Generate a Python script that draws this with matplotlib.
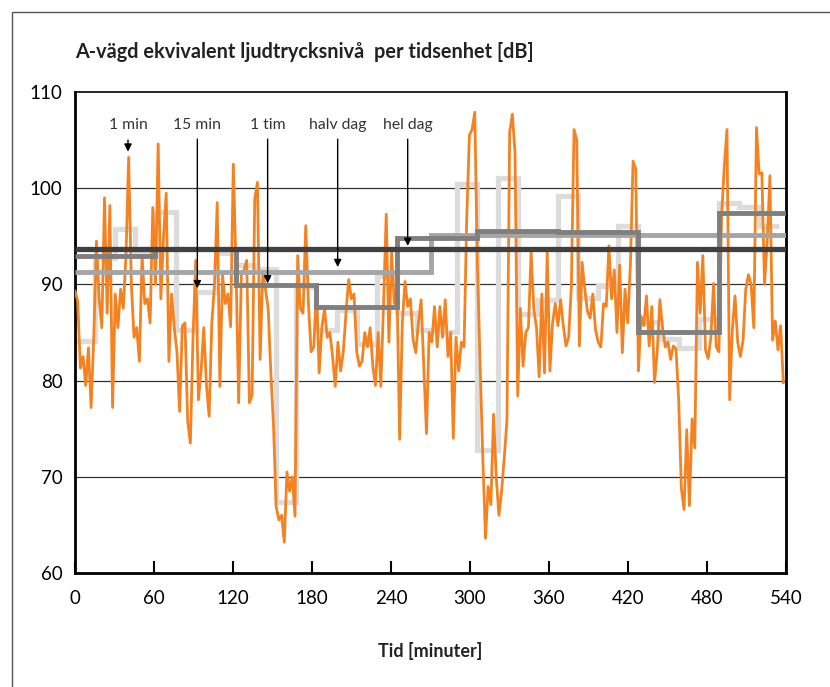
import matplotlib
matplotlib.use("Agg")
import matplotlib.pyplot as plt
from matplotlib.patches import Rectangle

plt.rcParams['font.family'] = ['Lato', 'DejaVu Sans']

# ---------------- data ----------------
TOTAL_MIN = 530  # length of the measurement series (minutes)

minute_values = [
    89.3, 88.3, 81.3, 82.5, 79.5, 83.4, 77.2, 84.5, 94.5, 88.5,
    85.5, 99.0, 87.0, 98.2, 77.2, 89.0, 85.5, 89.5, 87.5, 93.0,
    103.2, 90.0, 84.5, 85.5, 82.0, 93.0, 88.0, 88.5, 86.0, 98.0,
    90.0, 104.6, 88.5, 95.0, 99.5, 82.0, 89.0, 85.5, 83.0, 76.8,
    85.7, 86.0, 75.8, 73.5, 84.6,
    92.5, 78.0, 81.0, 85.5, 79.5, 76.3, 86.0, 90.0, 98.5, 79.4,
    91.0, 88.0, 89.0, 85.6, 102.5, 92.0, 77.7, 91.0, 91.5, 92.5,
    77.7, 78.5, 98.9, 100.6, 82.2, 91.3, 89.5, 87.5, 80.8, 75.2,
    66.9, 65.5, 66.0, 63.2, 70.5, 68.5, 70.0, 65.9, 93.0, 87.5,
    87.0, 96.1, 88.0, 83.0, 83.5,
    89.5, 80.8, 85.5, 87.5, 84.5, 85.0, 82.5, 79.4, 84.0, 81.0,
    83.0, 87.0, 90.5, 88.5, 89.0, 83.0, 81.5, 82.0, 85.0, 83.5,
    85.5, 81.5, 79.5, 85.0, 79.4, 88.0, 97.3, 84.0, 93.3, 88.0,
    89.8, 73.9, 86.0, 90.3, 87.7, 88.5, 84.3, 82.9, 86.0, 88.4,
    81.5, 74.5, 85.0, 84.0, 87.7,
    83.5, 87.7, 84.5, 88.4, 82.5, 85.0, 74.0, 84.5, 81.0, 84.0,
    83.5, 96.8, 105.5, 106.1, 107.9, 91.9, 81.5, 72.0, 63.6, 69.0,
    67.1, 76.5, 70.0, 66.0, 68.5, 72.0, 75.9, 105.8, 107.7, 103.7,
    78.4, 87.5, 81.5, 85.0, 85.5, 93.3, 87.5, 85.5, 80.4, 89.0,
    80.8, 93.3, 81.0, 86.0, 88.0,
    85.7, 88.4, 85.7, 83.6, 84.5, 89.8, 106.1, 105.0, 83.6, 92.3,
    89.5, 87.2, 86.5, 89.0, 85.3, 84.0, 83.5, 88.0, 87.7, 94.0,
    88.5, 91.5, 85.0, 92.0, 82.9, 89.5, 86.0, 92.0, 102.8, 102.0,
    81.0, 86.7, 85.7, 88.8, 83.6, 87.7, 79.8, 83.0, 88.4, 85.5,
    83.5, 84.0, 82.2, 83.6,
    83.3, 78.0, 68.8, 66.6, 74.9, 67.0, 76.0, 73.0, 92.3, 87.0,
    93.0, 83.2, 82.3, 84.5, 90.1, 83.5, 83.0, 97.1, 102.3, 106.1,
    78.0, 85.3, 88.8, 84.0, 82.5, 84.2, 89.5, 91.0, 90.0, 85.5,
    106.3, 101.5, 101.6, 90.0, 94.5, 101.3, 84.2, 86.2, 83.2, 85.7,
    79.8,
]
minute_times = list(range(0, 2 * len(minute_values), 2))

quarter_values = [84.1, 92.7, 95.8, 93.2, 97.5, 85.3, 89.2, 93.3, 92.0, 91.6,
                  67.4, 89.7, 85.3, 87.3, 83.8, 90.9, 87.0, 85.3, 85.1, 100.4,
                  72.8, 101.1, 86.9, 88.4, 99.2, 88.6, 89.8, 96.1, 86.1, 84.3,
                  83.4, 86.4, 98.5, 98.0, 96.1]
quarter_edges = [15 * i for i in range(len(quarter_values) + 1)]

hour_values = [93.0, 93.7, 89.9, 87.6, 94.8, 95.5, 95.4, 85.1, 97.4]
hour_edges = [0, 60, 120, 180, 240, 300, 360, 420, 480, 530]

halfday_values = [91.3, 95.1]
halfday_edges = [0, 265, 530]

day_values = [93.7]
day_edges = [0, 530]

xtick_labels = [0, 60, 120, 180, 240, 300, 360, 420, 480, 540]
ytick_values = [60, 70, 80, 90, 100, 110]

annot_labels = ["1 min", "15 min", "1 tim", "halv dag", "hel dag"]
annot_x = [39.5, 91.2, 143.6, 195.8, 248.0]
annot_tip = [103.8, 89.6, 90.1, 91.8, 94.0]
annot_start = [105.0, 105.1, 105.1, 105.1, 105.1]

title = "A-vägd ekvivalent ljudtrycksnivå  per tidsenhet [dB]"
xlabel = "Tid [minuter]"

# ---------------- figure ----------------
W, H = 830, 687
fig = plt.figure(figsize=(W / 100, H / 100), dpi=100)
fig.patch.set_facecolor('white')

# outer chart border
fig.patches.append(Rectangle((12 / W, -0.1), 1.2, 1 - 12 / H + 0.1,
                             transform=fig.transFigure, fill=False,
                             edgecolor='#555555', lw=1.0))

L, R, T, B = 75, 786, 92, 573
ax = fig.add_axes([L / W, 1 - B / H, (R - L) / W, (B - T) / H])
ax.set_xlim(0, TOTAL_MIN)
ax.set_ylim(60, 110)

for y in [70, 80, 90, 100]:
    ax.axhline(y, color='#333333', lw=0.9, zorder=1)

ax.stairs(quarter_values, quarter_edges, baseline=None, color='#DCDCDC',
          lw=3.8, zorder=2)
ax.plot(minute_times, minute_values, color='#F58220', lw=2.0, zorder=3)
ax.stairs(halfday_values, halfday_edges, baseline=None, color='#A5A5A5',
          lw=3.5, zorder=4)
ax.stairs(hour_values, hour_edges, baseline=None, color='#7F7F7F',
          lw=3.5, zorder=5)
ax.stairs(day_values, day_edges, baseline=None, color='#404040',
          lw=3.8, zorder=6)

for lab, x, tip, st in zip(annot_labels, annot_x, annot_tip, annot_start):
    ax.annotate('', xy=(x, tip), xytext=(x, st),
                arrowprops=dict(arrowstyle='-|>', color='black', lw=1.0,
                                mutation_scale=11, shrinkA=0, shrinkB=0),
                zorder=7)
    ax.text(x, 106.6, lab, ha='center', va='center', fontsize=11.3,
            color='#333333', zorder=7)

xt_pos = [v * TOTAL_MIN / 540 for v in xtick_labels]
ax.set_xticks(xt_pos)
ax.set_xticklabels([str(v) for v in xtick_labels])
ax.set_yticks(ytick_values)
ax.set_yticklabels([str(v) for v in ytick_values])
ax.tick_params(axis='x', direction='in', length=9, width=1.5, pad=12,
               labelsize=13.5, colors='black')
ax.tick_params(axis='y', length=0, pad=9, labelsize=13.5)

for s in ['left', 'bottom']:
    ax.spines[s].set_linewidth(2.0)
    ax.spines[s].set_color('black')
ax.spines['top'].set_linewidth(1.2)
ax.spines['right'].set_linewidth(2.0)

fig.text(75 / W, 1 - 52 / H, title, ha='left', va='center', fontsize=14.3,
         fontweight='bold', color='#222222')
fig.text((L + R) / 2 / W, 1 - 651 / H, xlabel, ha='center', va='center',
         fontsize=13, fontweight='bold', color='#222222')

fig.savefig('out.png', dpi=100)
